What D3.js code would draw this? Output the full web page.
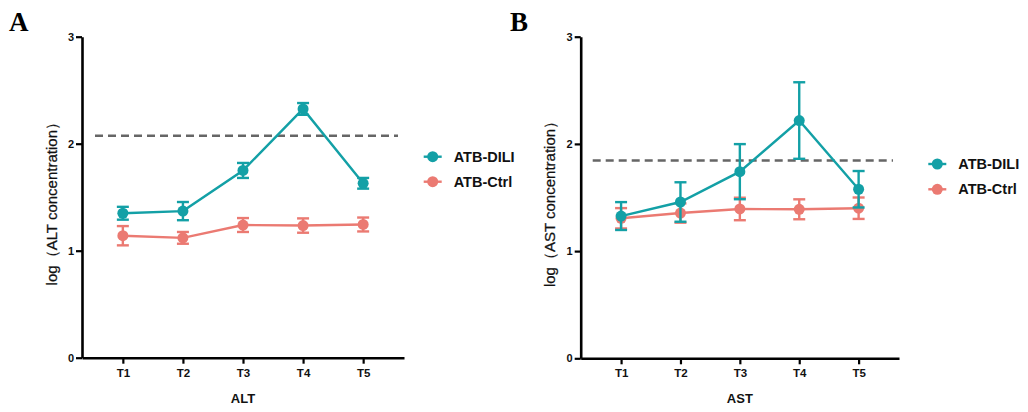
<!DOCTYPE html>
<html><head><meta charset="utf-8">
<script src="https://cdn.jsdelivr.net/npm/d3@7"></script>
<style>body{margin:0;background:#fff}svg{display:block}</style>
</head><body><svg id="c" width="1028" height="412"></svg>
<script>
const categories = ["T1","T2","T3","T4","T5"];
const seriesNames = ["ATB-DILI","ATB-Ctrl"];
const yTicks = [0,1,2,3];
// Panel A: ALT
const altDili = [1.35,1.37,1.75,2.325,1.63];
const altDiliErr = [0.06,0.085,0.07,0.055,0.05];
const altCtrl = [1.14,1.12,1.24,1.235,1.245];
const altCtrlErr = [0.09,0.055,0.065,0.067,0.065];
const altThreshold = 2.075;
// Panel B: AST
const astDili = [1.327,1.458,1.741,2.218,1.577];
const astDiliErr = [0.13,0.184,0.257,0.357,0.17];
const astCtrl = [1.306,1.355,1.393,1.39,1.40];
const astCtrlErr = [0.095,0.09,0.105,0.093,0.1];
const astThreshold = 1.845;

const colors = ["#13a0a6","#eb7a72"];
const svg = d3.select("#c");

function panel(opt){
  const g = svg.append("g");
  const x = d3.scalePoint().domain(categories).range([opt.x0,opt.x1]).padding(0.68);
  const y = d3.scaleLinear().domain([0,3]).range([opt.y0,opt.y1]);
  const ya = g.append("g").attr("transform",`translate(${opt.x0},0)`)
    .call(d3.axisLeft(y).tickValues(yTicks).tickFormat(d3.format("d")).tickSize(6).tickSizeOuter(0));
  const xa = g.append("g").attr("transform",`translate(0,${opt.y0})`)
    .call(d3.axisBottom(x).tickSize(6).tickSizeOuter(0));
  [ya,xa].forEach(a=>{
    a.select(".domain").attr("stroke","#000").attr("stroke-width",2.6);
    a.selectAll(".tick line").attr("stroke","#000").attr("stroke-width",2.2);
    a.selectAll("text").attr("font-family","Liberation Sans, Arial, sans-serif").attr("font-weight","bold").attr("font-size",11).attr("fill","#111");
  });
  ya.selectAll("text").attr("x",-8);
  xa.selectAll("text").attr("y",11).attr("font-size",11.5);
  g.append("line").attr("x1",opt.dashX0).attr("x2",opt.dashX1)
    .attr("y1",y(opt.thr)).attr("y2",y(opt.thr))
    .attr("stroke","#666").attr("stroke-width",2.6).attr("stroke-dasharray","8,5");
  const series = [
    {v:opt.ctrl,e:opt.ctrlErr,c:colors[1]},
    {v:opt.dili,e:opt.diliErr,c:colors[0]}
  ];
  series.forEach(s=>{
    const line = d3.line().x((d,i)=>x(categories[i])).y(d=>y(d));
    g.append("path").datum(s.v).attr("d",line).attr("fill","none").attr("stroke",s.c).attr("stroke-width",2.4);
    s.v.forEach((v,i)=>{
      const cx = x(categories[i]);
      const lo = y(v - s.e[i]), hi = y(v + s.e[i]);
      g.append("line").attr("x1",cx).attr("x2",cx).attr("y1",lo).attr("y2",hi).attr("stroke",s.c).attr("stroke-width",2.4);
      [lo,hi].forEach(yy=>g.append("line").attr("x1",cx-6).attr("x2",cx+6).attr("y1",yy).attr("y2",yy).attr("stroke",s.c).attr("stroke-width",2.4));
      g.append("circle").attr("cx",cx).attr("cy",y(v)).attr("r",5.5).attr("fill",s.c);
    });
  });
  g.append("text").attr("transform",`translate(${opt.ytx},${(opt.y0+opt.y1)/2+3}) rotate(-90)`)
    .attr("text-anchor","middle").attr("font-family","Liberation Sans, Arial, sans-serif")
    .attr("font-size",15).attr("fill","#111").attr("stroke","#111").attr("stroke-width",0.25).text(opt.ytitle);
  g.append("text").attr("x",x("T3")).attr("y",403).attr("text-anchor","middle")
    .attr("font-family","Liberation Sans, Arial, sans-serif").attr("font-weight","bold")
    .attr("font-size",13).attr("fill","#111").text(opt.xtitle);
  g.append("text").attr("x",opt.lx).attr("y",31).attr("font-family","Liberation Serif, Times New Roman, serif")
    .attr("font-weight","bold").attr("font-size",27).attr("fill","#000").text(opt.letter);
  seriesNames.forEach((n,i)=>{
    const ly = opt.legY + i*opt.legDy;
    g.append("line").attr("x1",opt.legX-9).attr("x2",opt.legX+9).attr("y1",ly).attr("y2",ly).attr("stroke",colors[i]).attr("stroke-width",2.4);
    g.append("circle").attr("cx",opt.legX).attr("cy",ly).attr("r",5.5).attr("fill",colors[i]);
    g.append("text").attr("x",opt.legX+21).attr("y",ly+5).attr("font-family","Liberation Sans, Arial, sans-serif")
      .attr("font-weight","bold").attr("font-size",14.5).attr("fill","#111").text(n);
  });
}

panel({x0:82,x1:404,y0:357.7,y1:36.7,dili:altDili,diliErr:altDiliErr,ctrl:altCtrl,ctrlErr:altCtrlErr,
  thr:altThreshold,dashX0:95,dashX1:398,ytitle:"log（ALT concentration）",xtitle:"ALT",letter:"A",lx:9,
  ytx:57,legX:432.7,legY:156.7,legDy:25});
panel({x0:580.7,x1:899,y0:358.3,y1:36.7,dili:astDili,diliErr:astDiliErr,ctrl:astCtrl,ctrlErr:astCtrlErr,
  thr:astThreshold,dashX0:592.7,dashX1:893,ytitle:"log（AST concentration）",xtitle:"AST",letter:"B",lx:510,
  ytx:555,legX:937.3,legY:164,legDy:25.3});
</script></body></html>
